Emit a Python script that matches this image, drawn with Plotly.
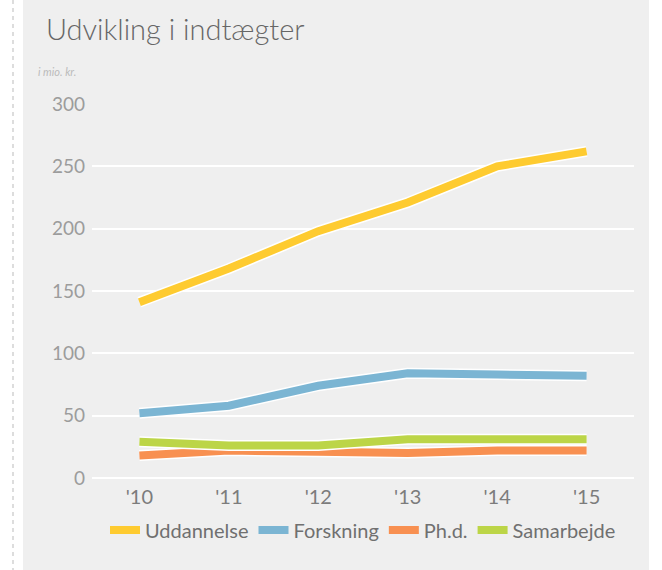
import plotly.graph_objects as go

years = ["'10", "'11", "'12", "'13", "'14", "'15"]
uddannelse = [141, 168, 198, 221, 250, 262]
forskning = [52, 58, 74, 84, 83, 82]
phd = [18, 22, 21, 20, 22, 22]
samarbejde = [29, 26, 26, 31, 31, 31]

series = [
    ("Uddannelse", uddannelse, "#FECB30"),
    ("Forskning", forskning, "#7BB5D3"),
    ("Ph.d.", phd, "#F89051"),
    ("Samarbejde", samarbejde, "#BCD547"),
]

fig = go.Figure()
for name, vals, col in series:
    fig.add_trace(go.Scatter(x=years, y=vals, mode="lines", showlegend=False,
                             hoverinfo="skip", line=dict(color="white", width=11),
                             cliponaxis=False))
    fig.add_trace(go.Scatter(x=years, y=vals, mode="lines", name=name,
                             line=dict(color=col, width=8), cliponaxis=False))

L, R, T, B = 92, 634, 104, 478
W, H = 662, 570
def px(x):
    return (x - L) / (R - L)
def py(y):
    return (B - y) / (B - T)

FONT = "Lato"
fig.update_layout(
    width=W, height=H,
    margin=dict(l=L, r=W - R, t=T, b=H - B, pad=0),
    paper_bgcolor="white", plot_bgcolor="#efefef",
    font=dict(family=FONT, color="#999999"),
    xaxis=dict(type="category", range=[-0.53, 5.53], showgrid=False, zeroline=False,
               showline=False, ticks="", ticklabelstandoff=5,
               tickfont=dict(size=20, color="#7c7c7c")),
    yaxis=dict(range=[0, 300], tickvals=[0, 50, 100, 150, 200, 250, 300],
               showgrid=True, gridcolor="white", gridwidth=2, zeroline=True,
               zerolinecolor="white", zerolinewidth=2, showline=False, ticks="",
               ticklabelstandoff=6, tickfont=dict(size=19, color="#9c9c9c")),
    legend=dict(orientation="h", x=0.5, xanchor="center", y=py(530), yanchor="middle",
                font=dict(size=20, color="#707070"), bgcolor="rgba(0,0,0,0)",
                itemwidth=30, tracegroupgap=0),
    shapes=[
        dict(type="rect", xref="paper", yref="paper", x0=px(23), x1=px(649),
             y0=py(0), y1=py(570), fillcolor="#efefef", line=dict(width=0), layer="below"),
        dict(type="line", xref="paper", yref="paper", x0=px(13), x1=px(13),
             y0=py(0), y1=py(570), line=dict(color="#bbbbbb", width=1, dash="4px,4px")),
    ],
    annotations=[
        dict(text="Udvikling i indtægter", xref="paper", yref="paper", x=px(44), y=py(28),
             xanchor="left", yanchor="middle", showarrow=False,
             font=dict(size=29, color="#666666", family=FONT, weight=300)),
        dict(text="<i>i mio. kr.</i>", xref="paper", yref="paper", x=px(36), y=py(71),
             xanchor="left", yanchor="middle", showarrow=False,
             font=dict(size=11, color="#bbbbbb")),
    ],
)

fig.write_html("out.html", config={"displayModeBar": False},
               post_script="document.body.style.margin='0';")
